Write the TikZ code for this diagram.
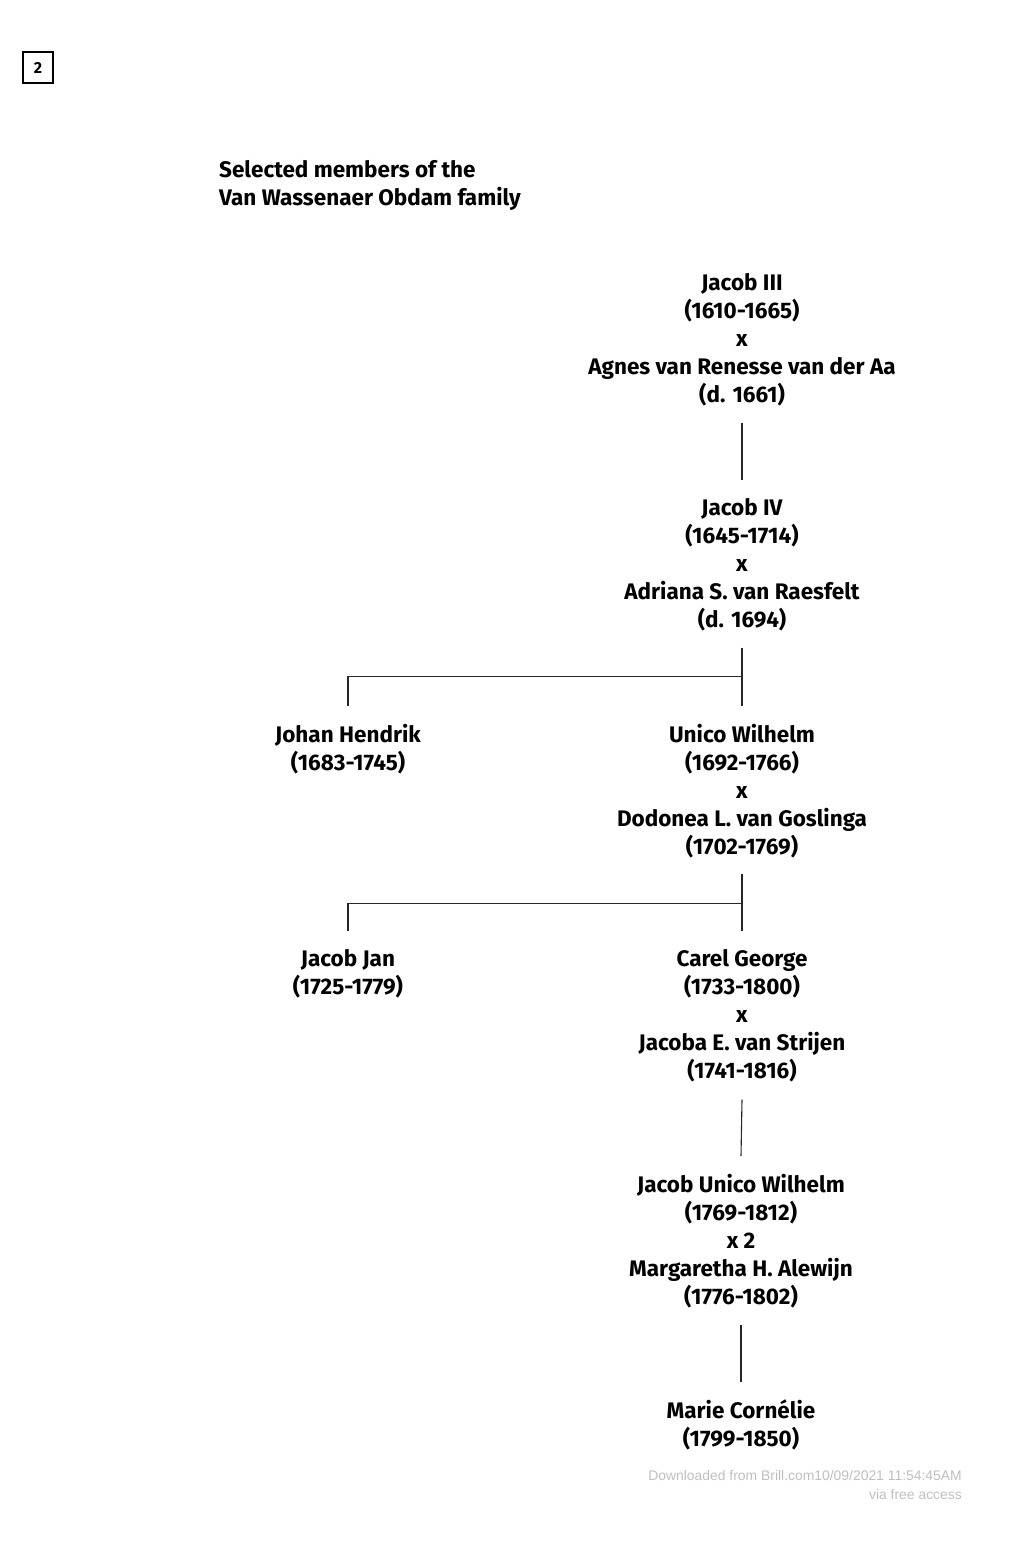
\documentclass[tikz,border=0pt]{standalone}
\usepackage{fontspec}
\setmainfont{Fira Sans}
\newfontfamily\footfont{Liberation Sans}
\begin{document}
\begin{tikzpicture}[x=1pt,y=-1pt,
  person/.style={align=center,inner sep=0pt,font=\fontsize{22.5}{28}\selectfont\bfseries},
  link/.style={line width=1.1pt,draw=black!85},
  footer/.style={align=right,inner sep=0pt,text=black!25,font=\footfont\fontsize{13.9}{19}\selectfont}]
\useasboundingbox (0,0) rectangle (1020,1546);
\node[draw,line width=2.2pt,minimum width=30pt,minimum height=31pt,inner sep=0pt,font=\fontsize{16}{18}\selectfont\bfseries] (num) at (38,67.5) {2};
\node[person,align=left,anchor=west] (title) at (219,185.5) {Selected members of the\\Van Wassenaer Obdam family};
\node[person] (j3) at (742,340) {Jacob III\\(1610-1665)\\x\\Agnes van Renesse van der Aa\\(d. 1661)};
\node[person] (j4) at (742,565) {Jacob IV\\(1645-1714)\\x\\Adriana S. van Raesfelt\\(d. 1694)};
\node[person] (jh) at (348,749) {Johan Hendrik\\(1683-1745)};
\node[person] (uw) at (742,791) {Unico Wilhelm\\(1692-1766)\\x\\Dodonea L. van Goslinga\\(1702-1769)};
\node[person] (jj) at (348,974) {Jacob Jan\\(1725-1779)};
\node[person] (cg) at (742,1016) {Carel George\\(1733-1800)\\x\\Jacoba E. van Strijen\\(1741-1816)};
\node[person] (juw) at (741,1241) {Jacob Unico Wilhelm\\(1769-1812)\\x 2\\Margaretha H. Alewijn\\(1776-1802)};
\node[person] (mc) at (741,1425) {Marie Cornélie\\(1799-1850)};
\node[footer,anchor=east] (foot) at (962,1485.5) {Downloaded from Brill.com10/09/2021 11:54:45AM\\via free access};
% connectors
\draw[link] ([yshift=-16pt]j3.south) -- ([yshift=18pt]j4.north);
\draw[link] ([yshift=-16pt]j4.south) -- ([yshift=18pt]uw.north);
\coordinate (f1) at ([yshift=-45pt]j4.south);
\draw[link] (f1) -| ([yshift=18pt]jh.north);
\draw[link] ([yshift=-16pt]uw.south) -- ([yshift=18pt]cg.north);
\coordinate (f2) at ([yshift=-45pt]uw.south);
\draw[link] (f2) -| ([yshift=18pt]jj.north);
\draw[link] ([yshift=-17pt]cg.south) -- ([yshift=18pt]juw.north);
\draw[link] ([yshift=-17pt]juw.south) -- ([yshift=18pt]mc.north);
\end{tikzpicture}
\end{document}
